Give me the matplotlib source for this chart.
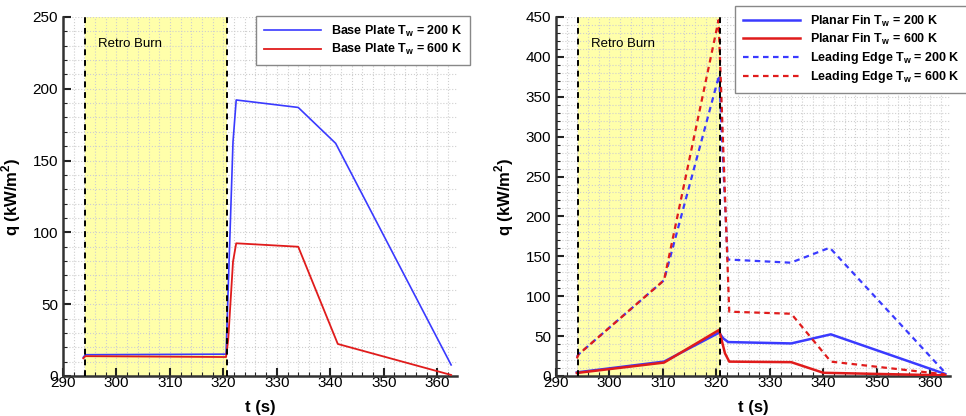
import numpy as np
import matplotlib
matplotlib.use("Agg")
import matplotlib.pyplot as plt
from matplotlib.ticker import MultipleLocator

plt.rcParams['font.family'] = ['Liberation Sans', 'DejaVu Sans']
plt.rcParams['mathtext.fontset'] = 'custom'
plt.rcParams['mathtext.rm'] = 'Liberation Sans'
plt.rcParams['mathtext.bf'] = 'Liberation Sans:bold'

# retro burn window (s)
burn_start = 294.2
burn_end = 320.6

# base plate heating, left panel
t_bp_200 = [293.8, 294.2, 320.5, 321.8, 322.4, 334.0, 341.0, 362.6]
q_bp_200 = [13.0, 14.8, 15.2, 163.0, 192.2, 187.0, 162.0, 7.7]
t_bp_600 = [293.8, 294.2, 320.5, 320.9, 321.8, 322.4, 334.0, 341.4, 362.6]
q_bp_600 = [12.3, 13.8, 13.2, 25.0, 79.6, 92.4, 90.0, 22.3, 0.7]

# planar fin / leading edge heating, right panel
t_pf_200 = [293.9, 310.2, 320.5, 321.3, 322.2, 334.0, 341.4, 362.8]
q_pf_200 = [4.5, 18.0, 54.3, 47.0, 42.5, 40.8, 52.2, 2.5]
t_pf_600 = [293.9, 310.2, 320.5, 321.6, 322.4, 334.0, 340.0, 362.8]
q_pf_600 = [3.8, 16.8, 57.7, 28.4, 18.0, 17.3, 4.0, 0.8]
t_le_200 = [293.9, 294.2, 310.2, 320.5, 322.1, 333.9, 341.2, 362.8]
q_le_200 = [24.0, 27.0, 120.0, 377.0, 146.0, 142.0, 160.8, 4.0]
t_le_600 = [293.9, 294.2, 310.2, 320.4, 322.4, 334.0, 341.4, 362.8]
q_le_600 = [22.0, 27.0, 120.0, 446.0, 80.6, 78.0, 18.0, 2.0]

blue = '#3a3aff'
red = '#e01b1b'

fig = plt.figure(figsize=(9.66, 4.16), dpi=100)
ax1 = fig.add_axes([0.0652, 0.0962, 0.4079, 0.863])
ax2 = fig.add_axes([0.5756, 0.0962, 0.4079, 0.863])


def style_axes(ax, ymax):
    ax.set_xlim(290, 363.7)
    ax.set_ylim(0, ymax)
    ax.axvspan(burn_start, burn_end, color='#ffffaa', zorder=0, lw=0)
    for xv in (burn_start, burn_end):
        ax.axvline(xv, color='black', ls=(0, (3, 2.5)), lw=1.4, zorder=4)
    ax.text(296.5, ymax * 0.925, 'Retro Burn', fontsize=9.5, va='center', zorder=5)
    ax.xaxis.set_major_locator(MultipleLocator(10))
    ax.xaxis.set_minor_locator(MultipleLocator(2))
    ax.yaxis.set_major_locator(MultipleLocator(50))
    ax.yaxis.set_minor_locator(MultipleLocator(10))
    ax.grid(which='both', ls=':', color='#cfcfcf', lw=0.8, zorder=1)
    ax.set_axisbelow(True)
    ax.tick_params(which='both', direction='in', labelsize=11, color='#222222')
    ax.tick_params(which='major', length=6, width=1.5)
    ax.tick_params(which='minor', length=3, width=0.8)
    ax.tick_params(axis='x', pad=0)
    for s in ('top', 'right'):
        ax.spines[s].set_visible(False)
    for s in ('left', 'bottom'):
        ax.spines[s].set_linewidth(1.8)
        ax.spines[s].set_color('#333333')
    ax.set_xlabel('t (s)', fontsize=12, fontweight='bold', labelpad=7)
    ax.set_ylabel('q (kW/m$^\\mathbf{2}$)', fontsize=12, fontweight='bold', labelpad=7)


style_axes(ax1, 250)
ax1.plot(t_bp_200, q_bp_200, color=blue, lw=1.2, zorder=3,
         label='Base Plate T$_\\mathbf{w}$ = 200 K')
ax1.plot(t_bp_600, q_bp_600, color=red, lw=1.3, zorder=3,
         label='Base Plate T$_\\mathbf{w}$ = 600 K')
leg1 = ax1.legend(loc='upper left', bbox_to_anchor=(256 / 966, 1 - 16 / 416),
                  bbox_transform=fig.transFigure, fancybox=False, framealpha=1,
                  edgecolor='#888888', prop={'weight': 'bold', 'size': 9},
                  handlelength=4.6, handletextpad=0.8, labelspacing=0.3,
                  borderpad=0.6, borderaxespad=0)
leg1.get_frame().set_linewidth(1.0)

style_axes(ax2, 450)
ax2.plot(t_pf_200, q_pf_200, color=blue, lw=1.8, zorder=3,
         label='Planar Fin T$_\\mathbf{w}$ = 200 K')
ax2.plot(t_pf_600, q_pf_600, color=red, lw=1.8, zorder=3,
         label='Planar Fin T$_\\mathbf{w}$ = 600 K')
ax2.plot(t_le_200, q_le_200, color=blue, lw=1.6, ls=(0, (2.5, 2)), zorder=3,
         label='Leading Edge T$_\\mathbf{w}$ = 200 K')
ax2.plot(t_le_600, q_le_600, color=red, lw=1.6, ls=(0, (2.5, 2)), zorder=3,
         label='Leading Edge T$_\\mathbf{w}$ = 600 K')
leg2 = ax2.legend(loc='upper left', bbox_to_anchor=(735 / 966, 1 - 6 / 416),
                  bbox_transform=fig.transFigure, fancybox=False, framealpha=1,
                  edgecolor='#888888', prop={'weight': 'bold', 'size': 9},
                  handlelength=4.6, handletextpad=0.8, labelspacing=0.25,
                  borderpad=0.6, borderaxespad=0)
leg2.get_frame().set_linewidth(1.0)

fig.savefig('out.png', dpi=100)
